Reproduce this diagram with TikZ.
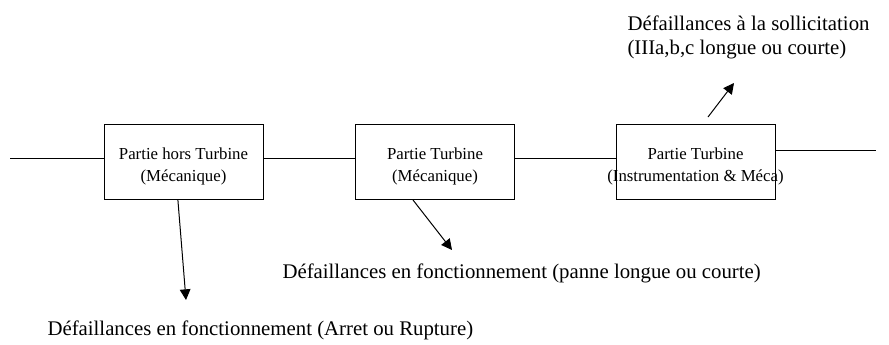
\documentclass[tikz,border=0pt]{standalone}
\usepackage{fontspec}
\setmainfont{Liberation Serif}
\usetikzlibrary{arrows.meta,calc}
\begin{document}
\begin{tikzpicture}[x=0.75pt,y=-0.75pt,
  line width=0.75pt,
  block/.style={draw, rectangle, minimum width=119.25pt, minimum height=56.25pt, inner sep=0pt},
  intext/.style={align=center, font=\fontsize{12.6}{16.5}\selectfont},
  outtext/.style={align=left, inner sep=0pt, font=\fontsize{15.6}{18}\selectfont},
  flow/.style={-{Triangle[width=8pt,length=8pt]}}]
  \useasboundingbox (0,0) rectangle (889,344);

  % the three blocks of the chain
  \node[block, label={[intext, yshift=-3pt]center:{Partie hors Turbine\\(Mécanique)}}] (b1) at (183.5,162) {};
  \node[block, label={[intext, yshift=-3pt]center:{Partie Turbine\\(Mécanique)}}] (b2) at (435,162) {};
  \node[block, label={[intext, yshift=-3pt]center:{Partie Turbine\\(Instrumentation \& Méca)}}] (b3) at (695.5,162) {};

  % chain links
  \coordinate (in) at (10,158);
  \coordinate (out) at (876,150);
  \draw (in) -- (in -| b1.west);
  \draw (b1.east |- in) -- (b2.west |- in);
  \draw (b2.east |- in) -- (b3.west |- in);
  \draw (b3.east |- out) -- (out);

  % failure modes
  \node[outtext, anchor=base west] (f1) at (47,335) {Défaillances en fonctionnement (Arret ou Rupture)};
  \node[outtext, anchor=base west] (f2) at (282,278) {Défaillances en fonctionnement (panne longue ou courte)};
  \node[outtext, anchor=north west] (f3) at (627,15) {Défaillances à la sollicitation\\(IIIa,b,c longue ou courte)};

  \coordinate (t1) at (186,300);
  \coordinate (t2) at (452,250);
  \coordinate (s3) at (708,117);
  \coordinate (t3) at (734,83);
  \draw[flow] ($(b1.south west)!0.465!(b1.south east)$) -- (t1);
  \draw[flow] ($(b2.south west)!0.3625!(b2.south east)$) -- (t2);
  \draw[flow] (s3) -- (t3);
\end{tikzpicture}
\end{document}
